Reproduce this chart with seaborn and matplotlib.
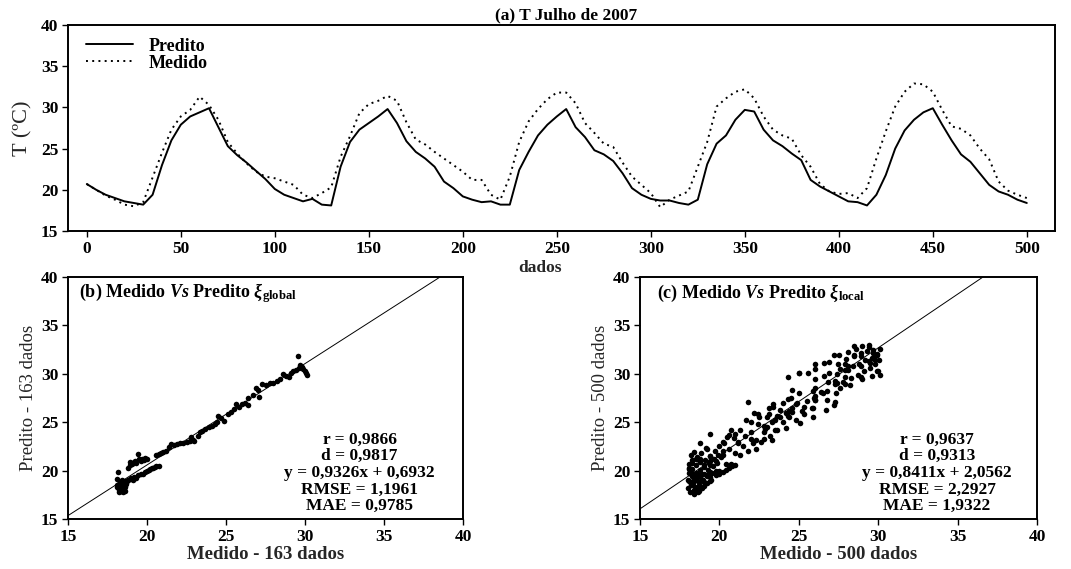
import matplotlib
matplotlib.use("Agg")
import matplotlib.pyplot as plt
import numpy as np
import pandas as pd
import seaborn as sns

# ---------------- data ----------------
indice = list(range(0, 501, 5))

predito = [20.7, 20.0, 19.4, 19.0, 18.6, 18.4, 18.2, 19.4, 23.0, 26.0,
           27.9, 28.9, 29.4, 29.9, 27.6, 25.3, 24.2, 23.3, 22.3, 21.3,
           20.1, 19.4, 19.0, 18.6, 18.9, 18.2, 18.1, 22.8, 25.8, 27.3,
           28.1, 28.9, 29.8, 28.1, 25.9, 24.6, 23.8, 22.8, 21.0, 20.2,
           19.2, 18.8, 18.5, 18.6, 18.2, 18.2, 22.4, 24.6, 26.6, 27.9,
           28.9, 29.8, 27.6, 26.4, 24.8, 24.3, 23.5, 22.0, 20.2, 19.4,
           18.9, 18.7, 18.7, 18.4, 18.2, 18.8, 23.1, 25.6, 26.6, 28.5,
           29.7, 29.5, 27.3, 26.0, 25.3, 24.4, 23.6, 21.2, 20.4, 19.8,
           19.2, 18.6, 18.5, 18.1, 19.4, 21.8, 25.0, 27.2, 28.5, 29.4,
           29.9, 27.9, 26.0, 24.3, 23.4, 22.0, 20.6, 19.8, 19.4, 18.8,
           18.4]

medido = [20.7, 20.0, 19.3, 18.8, 18.2, 18.0, 18.5, 21.5, 24.5, 27.3,
          28.9, 29.7, 31.3, 30.3, 28.5, 25.8, 24.4, 23.2, 22.2, 21.6,
          21.4, 21.0, 20.6, 19.4, 19.0, 19.6, 20.3, 24.0, 26.5, 29.3,
          30.4, 30.8, 31.4, 30.8, 28.2, 26.1, 25.5, 24.6, 23.8, 23.0,
          22.2, 21.2, 21.2, 19.4, 18.8, 21.6, 25.8, 28.3, 29.8, 31.0,
          31.8, 31.8, 30.5, 28.1, 26.9, 25.6, 25.2, 23.3, 21.6, 20.6,
          19.6, 17.9, 18.8, 19.3, 19.8, 22.8, 25.8, 30.1, 31.1, 31.9,
          32.2, 31.1, 28.9, 27.3, 26.6, 26.2, 24.2, 22.8, 20.7, 19.8,
          19.5, 19.6, 19.0, 20.2, 23.8, 27.1, 30.1, 31.9, 32.9, 32.8,
          31.9, 29.7, 27.7, 27.4, 26.6, 25.0, 23.7, 21.0, 19.9, 19.4,
          19.0]

# scatter (b): 163-sample comparison
global_x = [18.1, 18.15, 18.1, 18.2, 18.2, 18.25, 18.3, 18.3, 18.35, 18.4,
            18.4, 18.45, 18.5, 18.5, 18.55, 18.6, 18.65, 18.7, 18.75, 18.8,
            18.1, 18.2, 18.3, 18.4, 18.6,
            18.8, 18.9, 18.95, 19.05, 19.15, 19.25, 19.3, 19.4, 19.5, 19.6,
            19.7, 19.8, 19.9, 20.0,
            18.9, 19.0, 19.1, 19.2, 19.3, 19.45, 19.6, 19.75, 19.9, 20.0,
            20.1, 20.2, 20.3, 20.4, 20.5, 20.6, 20.75,
            20.6, 20.75, 20.9, 21.0, 21.2, 21.4, 21.5, 21.7, 21.9, 22.1,
            22.3, 22.5, 22.7, 22.8, 22.9, 23.0, 23.2, 23.35, 23.5, 23.7,
            23.9, 24.1, 24.3, 24.4, 24.5, 24.7, 24.9, 25.1, 25.3, 25.5,
            25.65, 25.8, 26.0, 26.2, 26.4, 26.4, 26.7, 26.9, 27.0, 27.1,
            27.3, 27.5, 27.8, 28.0, 28.2, 28.4, 28.6, 28.8, 29.0, 29.1,
            29.25, 29.4, 29.55, 29.6, 29.7, 29.8, 29.9, 30.0, 30.05, 30.1]
global_y = [19.1, 19.9, 18.5, 18.2, 18.0, 17.8, 18.4, 18.1, 17.9, 18.6,
            18.2, 17.8, 18.5, 18.0, 18.8, 18.3, 18.9, 18.6, 18.9, 19.0,
            18.3, 18.6, 18.8, 19.0, 17.9,
            20.3, 20.6, 20.9, 20.7, 20.9, 21.0, 20.8, 21.7, 21.2, 21.0,
            21.2, 21.1, 21.3, 21.2,
            19.1, 19.2, 19.0, 19.3, 19.2, 19.5, 19.6, 19.7, 19.9, 20.0,
            20.1, 20.2, 20.3, 20.3, 20.4, 20.5, 20.5,
            21.6, 21.7, 21.8, 21.9, 22.0, 22.4, 22.7, 22.6, 22.7, 22.8,
            22.9, 23.0, 23.1, 23.5, 23.2, 23.1, 23.6, 24.0, 24.1, 24.3,
            24.5, 24.6, 24.8, 25.0, 25.6, 25.4, 25.1, 25.8, 26.1, 26.4,
            26.9, 26.6, 26.9, 27.0, 26.8, 27.5, 27.8, 28.5, 28.3, 27.6,
            28.9, 28.8, 29.0, 29.1, 29.3, 29.5, 30.0, 29.8, 29.7, 30.1,
            30.3, 30.4, 31.8, 30.6, 30.9, 30.7, 30.5, 30.3, 30.1, 29.9]

# scatter (c): extra points of the 500-sample cloud
extra_c_x = [18.0, 18.05, 18.1, 18.1, 18.15, 18.2, 18.25, 18.3, 18.3, 18.4,
             18.45, 18.5, 18.5, 18.55, 18.6, 18.65, 18.7, 18.75, 18.8, 18.8,
             18.85, 18.9, 18.95, 19.0, 19.05, 19.1, 19.15, 19.2, 19.25, 19.3,
             19.35, 19.4, 19.5, 19.55, 19.6, 19.65, 19.7, 19.8, 19.85, 19.9,
             20.0, 18.1, 18.25, 18.4, 18.6, 18.7, 19.0, 19.4, 18.35, 18.6,
             19.8, 20.0, 20.2, 20.4, 20.6, 20.8, 21.0,
             20.2, 20.3, 20.5, 20.6, 20.7, 20.9, 21.0, 21.2, 21.3, 21.5,
             21.6, 21.7, 21.8, 22.0, 22.1, 22.2, 22.3, 22.4, 22.5, 22.6,
             22.8, 22.9, 23.0, 23.1, 23.2, 23.3, 23.4, 23.5, 23.6, 23.8,
             24.0, 24.0, 24.2, 24.3, 24.4, 24.5, 24.6, 24.8, 24.9, 25.0,
             25.0, 25.1, 25.2,
             25.9, 25.9, 25.95, 26.0, 26.0, 26.05, 26.0,
             26.7, 26.8, 26.8, 26.85, 26.9, 26.9,
             27.3, 27.35, 27.4, 27.4, 27.45, 27.5,
             27.8, 27.9, 28.0, 28.1, 28.3, 28.4, 28.5, 28.6, 28.7, 28.8,
             28.9, 29.0, 29.1, 29.2, 29.3, 29.4, 29.5, 29.6, 29.7, 29.8,
             29.9, 30.0, 30.05, 30.1, 30.1, 29.6, 29.0, 28.2, 26.5, 27.2,
             25.5]
extra_c_y = [18.2, 19.0, 19.8, 20.7, 17.8, 18.6, 19.4, 20.2, 21.1, 17.6,
             18.3, 19.0, 19.8, 20.6, 21.4, 17.8, 18.5, 19.3, 20.1, 20.9,
             21.8, 18.2, 19.0, 19.7, 20.4, 21.1, 22.3, 18.7, 19.4, 20.1,
             20.8, 21.5, 19.0, 19.8, 20.5, 21.2, 22.0, 20.0, 20.8, 21.6,
             22.5, 18.9, 20.8, 21.9, 18.1, 21.1, 18.4, 18.9, 18.7, 19.6,
             19.5, 19.7, 19.9, 20.1, 20.3, 20.5, 20.6,
             22.0, 22.9, 23.5, 22.2, 24.2, 23.4, 21.8, 23.0, 24.2, 22.5,
             23.6, 25.2, 22.0, 24.0, 22.9, 26.0, 23.2, 24.8, 25.5, 23.0,
             23.3, 24.3, 25.5, 26.5, 23.6, 25.0, 26.9, 24.2, 25.6, 26.3,
             25.0, 27.0, 26.0, 29.7, 25.5, 27.5, 26.5, 25.2, 27.0, 28.0,
             30.1, 24.9, 26.2,
             25.5, 26.5, 27.5, 28.5, 29.5, 30.5, 31.0,
             26.3, 27.3, 28.2, 29.2, 30.1, 31.2,
             27.1, 28.0, 29.0, 30.0, 31.0, 31.9,
             29.2, 30.4, 31.5, 32.3, 29.6, 30.8, 31.8, 32.6, 29.9, 31.0,
             32.1, 32.9, 30.3, 31.4, 32.4, 33.0, 30.6, 31.6, 32.5, 31.0,
             32.0, 30.3, 31.4, 32.6, 29.9, 29.8, 29.5, 28.8, 28.0, 26.8,
             27.2]

# reference lines drawn in (b) and (c)
ref_b_x = [15.0, 38.55]
ref_b_y = [15.35, 40.0]
ref_c_x = [15.0, 36.6]
ref_c_y = [16.05, 40.0]

stats_b = ["r = 0,9866", "d = 0,9817", "y = 0,9326x + 0,6932",
           "RMSE = 1,1961", "MAE = 0,9785"]
stats_c = ["r = 0,9637", "d = 0,9313", "y = 0,8411x + 2,0562",
           "RMSE = 2,2927", "MAE = 1,9322"]

ticks_a_x = list(range(0, 501, 50))
ticks_y = [15, 20, 25, 30, 35, 40]

# ---------------- style ----------------
sns.set_theme(style="ticks")
plt.rcParams.update({
    "font.family": ["Liberation Serif", "DejaVu Serif"],
    "font.weight": "bold",
    "axes.labelweight": "bold",
    "mathtext.fontset": "custom",
    "mathtext.rm": "Liberation Serif:bold",
    "mathtext.it": "Liberation Serif:italic:bold",
    "mathtext.bf": "Liberation Serif:bold",
    "axes.edgecolor": "black",
    "xtick.color": "black",
    "ytick.color": "black",
    "text.color": "black",
})

W, H = 1071, 569
fig = plt.figure(figsize=(W / 100, H / 100), dpi=100)
ax_a = fig.add_axes([68 / W, 1 - 231 / H, 987 / W, 206 / H])
ax_b = fig.add_axes([68 / W, 1 - 519 / H, 395 / W, 242 / H])
ax_c = fig.add_axes([640 / W, 1 - 519 / H, 397 / W, 242 / H])

# ---------------- (a) time series ----------------
df = pd.DataFrame({"dados": indice, "Predito": predito, "Medido": medido})
long = df.melt(id_vars="dados", var_name="serie", value_name="T")
sns.lineplot(data=long, x="dados", y="T", style="serie",
             style_order=["Predito", "Medido"],
             dashes={"Predito": "", "Medido": (1, 2.2)},
             color="black", linewidth=1.4, ax=ax_a)
handles, labels = ax_a.get_legend_handles_labels()
ax_a.legend(handles[-2:], labels[-2:], loc="upper left", frameon=False,
            fontsize=13, handlelength=2.6, borderaxespad=0.3,
            labelspacing=0.0, handletextpad=0.9,
            bbox_to_anchor=(0.005, 1.0))
ax_a.set_xlim(-10, 515)
ax_a.set_ylim(15, 40)
ax_a.set_xticks(ticks_a_x)
ax_a.set_yticks(ticks_y)
ax_a.set_xlabel("dados", fontsize=12.5, labelpad=0)
ax_a.xaxis.set_label_coords(0.478, -0.14)
ax_a.set_ylabel("T (ºC)", fontsize=16, fontweight="normal", labelpad=6)
ax_a.set_title("(a) T Julho de 2007", fontsize=12.5, fontweight="bold",
               pad=4, x=0.505)

# ---------------- (b) scatter global ----------------
sns.scatterplot(x=global_x, y=global_y, color="black", s=16,
                linewidth=0, ax=ax_b)
ax_b.plot(ref_b_x, ref_b_y, color="black", lw=0.7)

# ---------------- (c) scatter local ----------------
sns.scatterplot(x=predito + extra_c_x, y=medido + extra_c_y, color="black",
                s=16, linewidth=0, ax=ax_c)
ax_c.plot(ref_c_x, ref_c_y, color="black", lw=0.7)

for ax, n, tag, sub, stats, tx, ttl_x in [
        (ax_b, 163, "(b)", "global", stats_b, 33.45, 15.7),
        (ax_c, 500, "(c)", "local", stats_c, 33.7, 16.1)]:
    ax.set_xlim(15, 40)
    ax.set_ylim(15, 40)
    ax.set_xticks(ticks_y)
    ax.set_yticks(ticks_y)
    ax.set_xlabel(f"Medido - {n} dados", fontsize=13.5, labelpad=1)
    ax.set_ylabel(f"Predito - {n} dados", fontsize=13.5, fontweight="normal",
                  labelpad=3)
    ax.text(ttl_x, 38.3,
            tag + r" Medido $Vs$ Predito $\xi_{\mathrm{" + sub + "}}$",
            fontsize=13, fontweight="bold", ha="left", va="center")
    for k, s in enumerate(stats):
        ax.text(tx, 23.2 - 1.72 * k, s, fontsize=12.5, fontweight="bold",
                ha="center", va="center")

for ax in (ax_a, ax_b, ax_c):
    for sp in ax.spines.values():
        sp.set_visible(True)
        sp.set_linewidth(1.4)
        sp.set_color("black")
    ax.tick_params(axis="both", direction="out", length=4, width=1,
                   labelsize=12.5, pad=3)
    for lab in ax.get_xticklabels() + ax.get_yticklabels():
        lab.set_fontweight("bold")

fig.savefig("out.png", dpi=100)
